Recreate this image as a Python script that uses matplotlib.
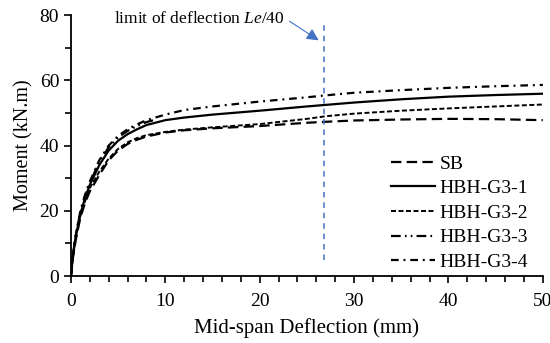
import matplotlib.pyplot as plt
from matplotlib.ticker import MultipleLocator

# momen vs lendutan tengah bentang
x_sb = [0, 0.2, 0.5, 1, 1.5, 2, 3, 4, 5, 6, 7, 8, 10, 12, 15, 20, 25, 27, 30, 35, 40, 45, 50]
y_sb = [0, 5.5, 11, 18, 22.5, 26, 31, 35.5, 38.5, 40.5, 41.8, 42.8, 44, 44.7, 45.3, 46, 47, 47.3, 47.7, 48, 48.2, 48.1, 47.8]

x_g1 = [0, 0.2, 0.5, 1, 1.5, 2, 3, 4, 5, 6, 7, 8, 10, 12, 15, 20, 25, 30, 35, 40, 45, 50]
y_g1 = [0, 6, 12, 19, 24, 28, 34, 38.5, 41.5, 43.5, 45, 46.3, 47.8, 48.6, 49.5, 50.7, 52, 53.2, 54.2, 55, 55.5, 55.9]

x_g2 = [0, 0.2, 0.5, 1, 1.5, 2, 3, 4, 5, 6, 7, 8, 10, 12, 15, 20, 25, 27, 30, 35, 40, 45, 50]
y_g2 = [0, 5.8, 11.5, 18.5, 23, 27, 32, 36, 39, 41, 42.3, 43.2, 44.2, 44.9, 45.6, 46.6, 48.2, 49, 49.8, 50.7, 51.4, 52, 52.6]

x_g3 = [0, 0.2, 0.5, 1, 1.5, 2, 3, 4, 5, 6, 7, 8, 9]
y_g3 = [0, 6.2, 12.5, 19.5, 24.5, 28.5, 35, 39.5, 42.5, 44.5, 46, 47.2, 48]

x_g4 = [0, 0.2, 0.5, 1, 1.5, 2, 3, 4, 5, 6, 7, 8, 10, 12, 15, 20, 25, 27, 30, 35, 40, 45, 50]
y_g4 = [0, 6, 12.5, 20, 25, 29, 35.5, 40, 43, 45, 46.5, 47.8, 49.5, 50.9, 52, 53.5, 54.8, 55.4, 56.2, 57, 57.7, 58.2, 58.6]

batas_x = 26.8
batas_y = [5, 78]

plt.rcParams['font.family'] = ['Liberation Serif', 'DejaVu Serif']
plt.rcParams['mathtext.fontset'] = 'custom'
plt.rcParams['mathtext.rm'] = 'Liberation Serif'
plt.rcParams['mathtext.it'] = 'Liberation Serif:italic'
plt.rcParams['lines.scale_dashes'] = False

fig = plt.figure(figsize=(5.5, 3.43), dpi=100)
ax = fig.add_axes([0.129, 0.195, 0.858, 0.761])

ax.plot(x_sb, y_sb, color='black', lw=1.6, dashes=(7.5, 3.8), label='SB')
ax.plot(x_g1, y_g1, color='black', lw=1.6, label='HBH-G3-1')
ax.plot(x_g2, y_g2, color='black', lw=1.4, dashes=(3.6, 1.8), label='HBH-G3-2')
ax.plot(x_g3, y_g3, color='black', lw=1.6, dashes=(7, 3, 1.2, 3, 1.2, 3), label='HBH-G3-3')
ax.plot(x_g4, y_g4, color='black', lw=1.6, dashes=(5.5, 3.5, 1.4, 3.5), label='HBH-G3-4')

ax.plot([batas_x, batas_x], batas_y, color='#4472C4', lw=1.1, dashes=(4, 3.5))
ax.annotate('', xy=(26.5, 71.8), xytext=(22.9, 78.6),
            arrowprops=dict(arrowstyle='-|>', color='#4472C4', lw=0.8, mutation_scale=18))
ax.text(4.6, 78.7, 'limit of deflection $Le$/40', fontsize=12.5, va='center', ha='left')

ax.set_xlim(0, 50)
ax.set_ylim(0, 80)
ax.xaxis.set_major_locator(MultipleLocator(10))
ax.xaxis.set_minor_locator(MultipleLocator(2))
ax.yaxis.set_major_locator(MultipleLocator(20))
ax.yaxis.set_minor_locator(MultipleLocator(10))
ax.tick_params(which='both', direction='out', width=1.2, labelsize=14)
ax.tick_params(which='major', length=5)
ax.tick_params(which='minor', length=4)
ax.tick_params(axis='x', pad=7)
for s in ['top', 'right']:
    ax.spines[s].set_visible(False)
for s in ['left', 'bottom']:
    ax.spines[s].set_linewidth(1.3)

ax.set_xlabel('Mid-span Deflection (mm)', fontsize=15, labelpad=6)
ax.set_ylabel('Moment (kN.m)', fontsize=14.5, labelpad=4)

ax.legend(loc='lower right', bbox_to_anchor=(0.985, -0.01), frameon=False, fontsize=14,
          handlelength=2.3, handletextpad=0.2, labelspacing=0.36, borderaxespad=0.0)

fig.savefig('out.png', dpi=100)
